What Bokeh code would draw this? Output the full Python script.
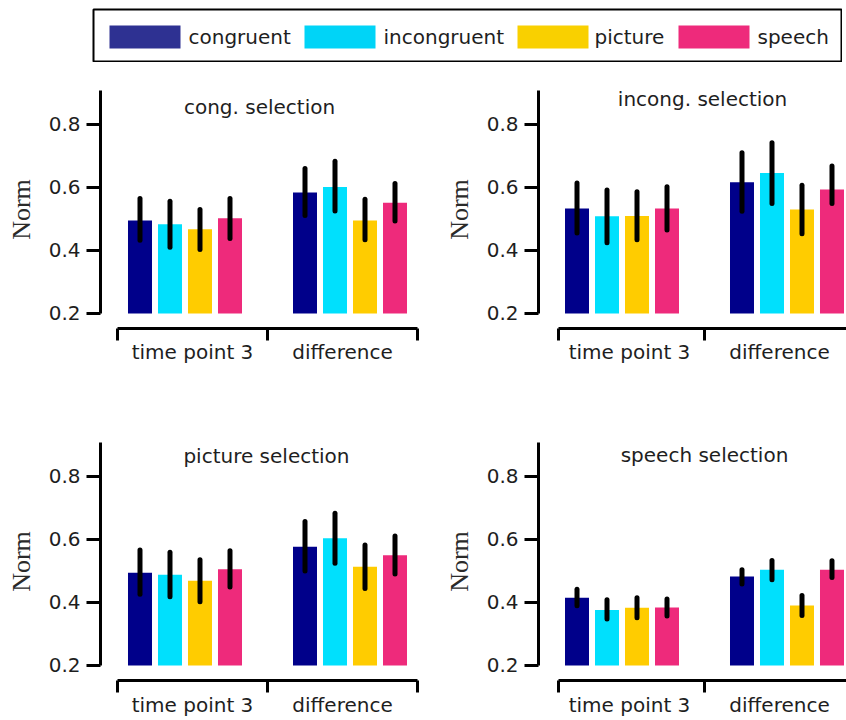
from bokeh.plotting import figure
from bokeh.layouts import column, row, Spacer
from bokeh.models import Range1d, FixedTicker, Label, ColumnDataSource
from bokeh.core.properties import value
from bokeh.embed import file_html
from bokeh.resources import INLINE

# ---------------- data ----------------
conditions = ["congruent", "incongruent", "picture", "speech"]
groups = ["time point 3", "difference"]
panel_titles = ["cong. selection", "incong. selection", "picture selection", "speech selection"]
y_ticks = [0.2, 0.4, 0.6, 0.8]

# each list: 4 conditions for "time point 3", then 4 for "difference"
cong_mean = [0.495, 0.483, 0.467, 0.502, 0.584, 0.601, 0.495, 0.551]
cong_low = [0.432, 0.410, 0.403, 0.438, 0.511, 0.525, 0.434, 0.493]
cong_high = [0.565, 0.556, 0.530, 0.565, 0.660, 0.683, 0.562, 0.612]

incong_mean = [0.533, 0.508, 0.509, 0.533, 0.616, 0.646, 0.530, 0.593]
incong_low = [0.455, 0.424, 0.434, 0.465, 0.524, 0.549, 0.453, 0.549]
incong_high = [0.614, 0.592, 0.586, 0.602, 0.710, 0.742, 0.607, 0.668]

picture_mean = [0.494, 0.488, 0.469, 0.505, 0.577, 0.604, 0.513, 0.550]
picture_low = [0.426, 0.418, 0.402, 0.449, 0.500, 0.524, 0.444, 0.490]
picture_high = [0.566, 0.559, 0.535, 0.564, 0.657, 0.683, 0.582, 0.611]

speech_mean = [0.415, 0.376, 0.383, 0.384, 0.482, 0.504, 0.390, 0.504]
speech_low = [0.389, 0.347, 0.351, 0.357, 0.458, 0.472, 0.358, 0.479]
speech_high = [0.442, 0.408, 0.415, 0.411, 0.504, 0.533, 0.422, 0.532]

bar_colors = ["#00008a", "#00e0fd", "#ffcc00", "#ee2a7b"]
legend_colors = ["#2e3192", "#00d4f7", "#f9d000", "#ee2a7b"]

# ---------------- layout helpers ----------------
FONT = "DejaVu Sans"
TXT = "#1e1e1e"
group_centers = [0.45, 1.55]
cond_offsets = [-0.3, -0.1, 0.1, 0.3]
Y0, Y1 = 0.152, 0.9076


def make_panel(title, means, lows, highs, x_start, x_end, width, height,
               border_left, border_bottom, label_standoff, bracket_start, title_x, title_y):
    p = figure(width=width, height=height, x_range=Range1d(x_start, x_end),
               y_range=Range1d(Y0, Y1), output_backend="svg", toolbar_location=None,
               min_border_left=border_left, min_border_right=0, min_border_top=28,
               min_border_bottom=border_bottom)
    p.outline_line_color = None
    p.grid.visible = False
    p.background_fill_color = "white"
    p.border_fill_color = "white"

    xs = [gc + off for gc in group_centers for off in cond_offsets]
    cols = [c for _ in groups for c in bar_colors]
    src = ColumnDataSource(dict(x=xs, top=means, low=lows, high=highs, color=cols))
    p.vbar(x="x", bottom=0.2, top="top", width=0.16, fill_color="color", line_color=None, source=src)
    p.segment(x0="x", y0="low", x1="x", y1="high", line_width=5, line_color="black",
              line_cap="round", source=src)

    # y axis
    ya = p.yaxis[0]
    ya.ticker = FixedTicker(ticks=y_ticks)
    ya.bounds = (0.2, Y1)
    ya.axis_line_width = 3
    ya.major_tick_line_width = 3
    ya.major_tick_out = 14
    ya.major_tick_in = 0
    ya.minor_tick_line_color = None
    ya.major_label_text_font = FONT
    ya.major_label_text_font_size = "20px"
    ya.major_label_text_color = TXT
    ya.major_label_standoff = 6
    ya.axis_label = "Norm"
    ya.axis_label_text_font = "Liberation Serif"
    ya.axis_label_text_font_size = "26px"
    ya.axis_label_text_font_style = "normal"
    ya.axis_label_text_color = "#2a2a2a"
    ya.axis_label_standoff = 10

    # x axis drawn as a bracket
    xa = p.xaxis[0]
    xa.ticker = FixedTicker(ticks=[0.5, 1.5], minor_ticks=[bracket_start, 1, 2])
    xa.major_label_overrides = {0.5: groups[0], 1.5: groups[1]}
    xa.bounds = (bracket_start, 2)
    xa.axis_line_width = 3
    xa.major_tick_line_color = None
    xa.major_tick_out = 0
    xa.major_tick_in = 0
    xa.minor_tick_line_width = 3
    xa.minor_tick_line_color = "black"
    xa.minor_tick_out = 12
    xa.minor_tick_in = 0
    xa.major_label_text_font = FONT
    xa.major_label_text_font_size = "20px"
    xa.major_label_text_color = TXT
    xa.major_label_standoff = label_standoff

    p.add_layout(Label(x=title_x, y=title_y, text=title, text_align="center",
                       text_baseline="middle", text_font=FONT, text_font_size="20px",
                       text_color=TXT))
    return p


# ---------------- legend (boxed strip) ----------------
leg = figure(width=750, height=54, x_range=Range1d(0, 748), y_range=Range1d(0, 52),
             output_backend="svg", toolbar_location=None, min_border=1)
leg.axis.visible = False
leg.grid.visible = False
leg.outline_line_color = "black"
leg.outline_line_width = 2
sw_left = [16, 211, 424, 585]
sw_w = 71
txt_x = [95, 290, 501, 664]
leg.quad(left=sw_left, right=[s + sw_w for s in sw_left], bottom=[13] * 4, top=[36] * 4,
         fill_color=legend_colors, line_color=None)
leg.text(x=txt_x, y=[24.5] * 4, text=conditions, text_font=value(FONT),
         text_font_size=value("20px"), text_baseline="middle", text_align="left",
         text_color=TXT)

p1 = make_panel(panel_titles[0], cong_mean, cong_low, cong_high,
                -0.1133, 2.1533, 440, 352, 100, 86, -1, 0.0, 0.947, 0.856)
p2 = make_panel(panel_titles[1], incong_mean, incong_low, incong_high,
                -0.1067, 1.9467, 406, 352, 98, 86, -1, 0.027, 0.987, 0.880)
p3 = make_panel(panel_titles[2], picture_mean, picture_low, picture_high,
                -0.1133, 2.1533, 440, 306, 100, 40, 0, 0.0, 0.993, 0.866)
p4 = make_panel(panel_titles[3], speech_mean, speech_low, speech_high,
                -0.1067, 1.9467, 406, 306, 98, 40, 0, 0.027, 1.0, 0.868)

layout = column(Spacer(height=8), row(Spacer(width=92), leg), row(p1, p2), row(p3, p4))
open("out.html", "w").write(file_html(layout, INLINE))
